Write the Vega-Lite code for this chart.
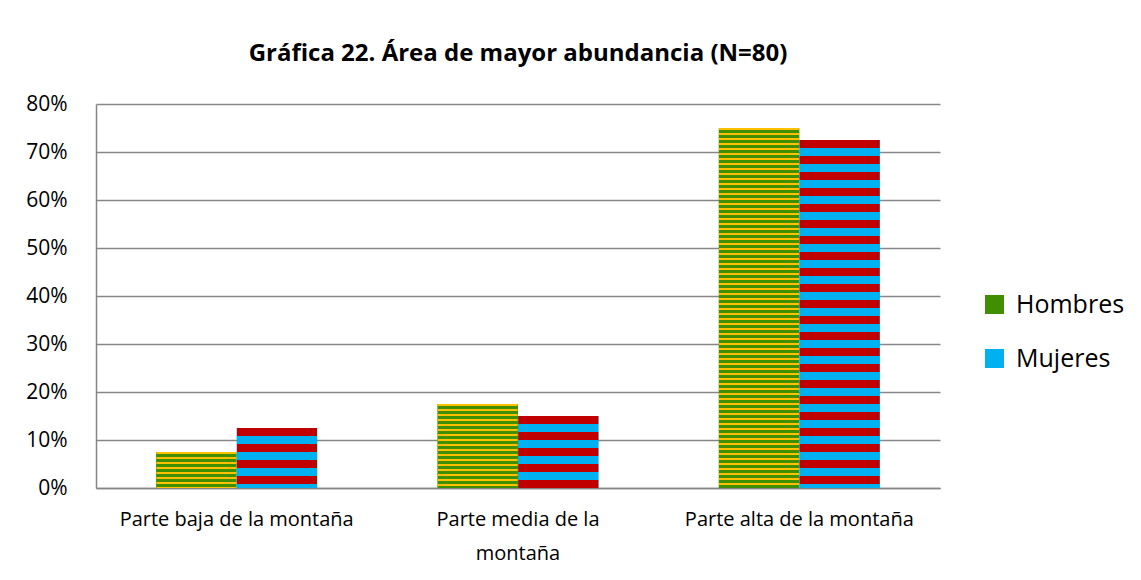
{
  "$schema": "https://vega.github.io/schema/vega-lite/v6.json",
  "width": 844,
  "height": 384,
  "padding": {"left": 25, "top": 42, "right": 5, "bottom": 5},
  "background": "white",
  "title": {"text": "Gráfica 22. Área de mayor abundancia (N=80)", "fontSize": 24, "font": "Open Sans", "fontWeight": "bold", "color": "#000000", "anchor": "middle", "offset": 22},
  "data": {"values": [
    {"area": "Parte baja de la montaña", "serie": "Hombres", "valor": 0.075},
    {"area": "Parte baja de la montaña", "serie": "Mujeres", "valor": 0.125},
    {"area": "Parte media de la montaña", "serie": "Hombres", "valor": 0.175},
    {"area": "Parte media de la montaña", "serie": "Mujeres", "valor": 0.15},
    {"area": "Parte alta de la montaña", "serie": "Hombres", "valor": 0.75},
    {"area": "Parte alta de la montaña", "serie": "Mujeres", "valor": 0.725}
  ]},
  "encoding": {
    "x": {"field": "area", "type": "nominal", "sort": null,
      "scale": {"paddingInner": 0.427, "paddingOuter": 0.2135},
      "axis": {"title": null, "labelAngle": 0, "labelFontSize": 20, "labelFont": "Open Sans", "labelColor": "#000000", "ticks": false, "labelPadding": 21, "labelLimit": 0, "domainColor": "#868686", "domainWidth": 1.5,
        "labelExpr": "datum.label == 'Parte media de la montaña' ? ['Parte media de la', 'montaña'] : datum.label", "labelLineHeight": 34}},
    "xOffset": {"field": "serie", "type": "nominal", "scale": {"paddingInner": 0, "paddingOuter": 0}},
    "y": {"field": "valor", "type": "quantitative", "scale": {"domain": [0, 0.8]},
      "axis": {"title": null, "format": ".0%", "values": [0, 0.1, 0.2, 0.3, 0.4, 0.5, 0.6, 0.7, 0.8], "labelFontSize": 21, "labelFont": "Open Sans", "labelColor": "#000000", "gridColor": "#868686", "gridWidth": 1.5, "domainColor": "#868686", "domainWidth": 1.5, "ticks": false, "labelPadding": 29}}
  },
  "layer": [
    {"mark": {"type": "bar"},
     "encoding": {"color": {"field": "serie", "type": "nominal", "scale": {"domain": ["Hombres", "Mujeres"], "range": ["#3f8f00", "#00B0F0"]},
       "legend": {"title": null, "orient": "none", "legendX": 886, "legendY": 188, "symbolType": "square", "symbolSize": 361, "labelFontSize": 25, "labelFont": "Open Sans", "labelColor": "#000000", "rowPadding": 28, "labelOffset": 9, "symbolStrokeWidth": 0}}}},
    {"mark": {"type": "rule", "strokeWidth": 80},
     "encoding": {
       "y2": {"datum": 0},
       "stroke": {"field": "serie", "type": "nominal", "scale": {"domain": ["Hombres", "Mujeres"], "range": ["#FFC000", "#C00000"]}, "legend": null},
       "strokeDash": {"field": "serie", "type": "nominal", "scale": {"domain": ["Hombres", "Mujeres"], "range": [[2, 3], [8, 8]]}, "legend": null}
     }}
  ],
  "resolve": {"scale": {"color": "independent"}},
  "config": {"view": {"stroke": null}}
}
